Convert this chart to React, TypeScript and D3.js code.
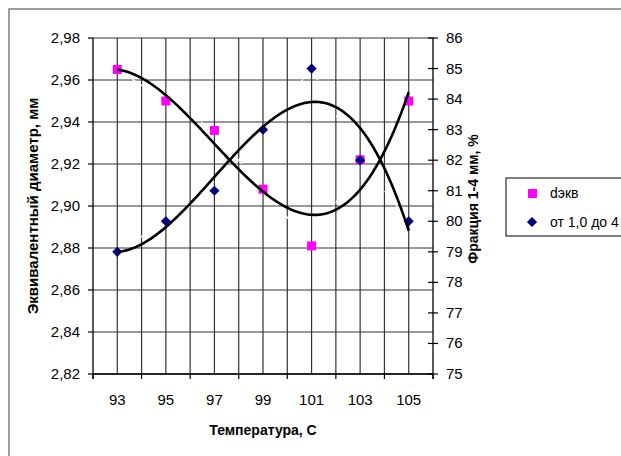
import React from 'react';
import * as d3 from 'd3';

// temperatures on the category axis
const temps = ['93', '95', '97', '99', '101', '103', '105'];
// equivalent diameter, mm (left axis)
const dEkv = [2.965, 2.95, 2.936, 2.908, 2.881, 2.922, 2.95];
// fraction 1-4 mm, % (right axis)
const frac = [79, 80, 81, 83, 85, 82, 80];

const leftTicks = [2.82, 2.84, 2.86, 2.88, 2.9, 2.92, 2.94, 2.96, 2.98];
const rightTicks = [75, 76, 77, 78, 79, 80, 81, 82, 83, 84, 85, 86];

const W = 621;
const H = 456;
const margin = { left: 93, right: 188, top: 38, bottom: 82 };
const font = '"Liberation Sans", Arial, sans-serif';

// least squares cubic, like the Excel polynomial trendline (x = 1..n)
const cubicFit = (ys: number[]) => {
  const n = 4;
  const A: number[][] = Array.from({ length: n }, () => new Array(n + 1).fill(0));
  ys.forEach((y, i) => {
    const x = i + 1;
    for (let r = 0; r < n; r++) {
      for (let c = 0; c < n; c++) A[r][c] += Math.pow(x, r + c);
      A[r][n] += y * Math.pow(x, r);
    }
  });
  // gaussian elimination
  for (let i = 0; i < n; i++) {
    let p = i;
    for (let k = i + 1; k < n; k++) if (Math.abs(A[k][i]) > Math.abs(A[p][i])) p = k;
    [A[i], A[p]] = [A[p], A[i]];
    for (let k = i + 1; k < n; k++) {
      const f = A[k][i] / A[i][i];
      for (let c = i; c <= n; c++) A[k][c] -= f * A[i][c];
    }
  }
  const coef = new Array(n).fill(0);
  for (let i = n - 1; i >= 0; i--) {
    let s = A[i][n];
    for (let c = i + 1; c < n; c++) s -= A[i][c] * coef[c];
    coef[i] = s / A[i][i];
  }
  return (x: number) => coef.reduce((acc, a, k) => acc + a * Math.pow(x, k), 0);
};

const App = () => {
  const x0 = margin.left;
  const x1 = W - margin.right;
  const y0 = H - margin.bottom;
  const y1 = margin.top;

  const x = d3.scaleBand().domain(temps).range([x0, x1]).padding(0);
  const bw = x.bandwidth();
  const cx = (t: string) => (x(t) as number) + bw / 2;
  // index scale for the trend lines (1..7 -> category centres)
  const xi = d3.scaleLinear().domain([1, temps.length]).range([cx(temps[0]), cx(temps[temps.length - 1])]);

  const yL = d3.scaleLinear().domain([2.82, 2.98]).range([y0, y1]);
  const yR = d3.scaleLinear().domain([75, 86]).range([y0, y1]);

  const fitD = cubicFit(dEkv);
  const fitF = cubicFit(frac);
  const steps = d3.range(1, temps.length + 0.001, 0.05);

  const trendD = d3.line<number>().x(v => xi(v)).y(v => yL(fitD(v)))(steps) || '';
  const trendF = d3.line<number>().x(v => xi(v)).y(v => yR(fitF(v)))(steps) || '';

  const lineD = d3.line<number>().x((_, i) => cx(temps[i])).y(v => yL(v))(dEkv) || '';
  const lineF = d3.line<number>().x((_, i) => cx(temps[i])).y(v => yR(v))(frac) || '';

  // vertical grid every half category
  const vGrid = d3.range(1, temps.length * 2).map(k => x0 + (k * bw) / 2);
  const bounds = d3.range(0, temps.length + 1).map(k => x0 + k * bw);

  // square turned 45 degrees, as Excel draws its diamond marker
  const diamond = d3.symbol().type(d3.symbolSquare).size(52)() || '';

  return (
    <svg width={W} height={H} style={{ position: 'absolute', left: 0, top: 0, background: '#fff' }} fontFamily={font}>
      {/* chart area border */}
      <rect x={9} y={9} width={W + 20} height={H + 20} fill="#fff" stroke="#808080" strokeWidth={1.5} />

      {/* gridlines */}
      {leftTicks.map(t => (
        <line key={'h' + t} x1={x0} x2={x1} y1={yL(t)} y2={yL(t)} stroke="#333" strokeWidth={1.2} />
      ))}
      {vGrid.map(g => (
        <line key={'v' + g} x1={g} x2={g} y1={y1} y2={y0} stroke="#333" strokeWidth={1.2} />
      ))}

      {/* axes */}
      <line x1={x0} x2={x0} y1={y1} y2={y0 + 5} stroke="#000" strokeWidth={1.3} />
      <line x1={x1} x2={x1} y1={y1} y2={y0 + 5} stroke="#000" strokeWidth={1.3} />
      <line x1={x0} x2={x1} y1={y0} y2={y0} stroke="#000" strokeWidth={1.3} />
      {bounds.map(b => (
        <line key={'bt' + b} x1={b} x2={b} y1={y0} y2={y0 + 5} stroke="#000" strokeWidth={1.2} />
      ))}
      {leftTicks.map(t => (
        <g key={'lt' + t}>
          <line x1={x0 - 5} x2={x0} y1={yL(t)} y2={yL(t)} stroke="#000" strokeWidth={1.2} />
          <text x={x0 - 13} y={yL(t) + 5} textAnchor="end" fontSize={15}>
            {d3.format('.2f')(t).replace('.', ',')}
          </text>
        </g>
      ))}
      {rightTicks.map(t => (
        <g key={'rt' + t}>
          <line x1={x1 - 5} x2={x1 + 5} y1={yR(t)} y2={yR(t)} stroke="#000" strokeWidth={1.2} />
          <text x={x1 + 13} y={yR(t) + 5} fontSize={15}>{t}</text>
        </g>
      ))}
      {temps.map(t => (
        <text key={'xt' + t} x={cx(t)} y={y0 + 31} textAnchor="middle" fontSize={15}>{t}</text>
      ))}

      {/* series lines (white dashed) */}
      <path d={lineD} fill="none" stroke="#fff" strokeWidth={1.5} strokeDasharray="5,4" />
      <path d={lineF} fill="none" stroke="#fff" strokeWidth={1.5} strokeDasharray="5,4" />

      {/* markers */}
      {dEkv.map((v, i) => (
        <rect key={'s' + i} x={cx(temps[i]) - 4.5} y={yL(v) - 4.5} width={9} height={9} fill="#ff00ff" />
      ))}
      {frac.map((v, i) => (
        <path key={'d' + i} d={diamond} transform={`translate(${cx(temps[i])},${yR(v)}) rotate(45)`} fill="#000080" />
      ))}

      {/* polynomial trend lines */}
      <path d={trendD} fill="none" stroke="#000" strokeWidth={2.6} />
      <path d={trendF} fill="none" stroke="#000" strokeWidth={2.6} />

      {/* axis titles */}
      <text x={(x0 + x1) / 2} y={435} textAnchor="middle" fontSize={14} fontWeight="bold">Температура, С</text>
      <text transform={`translate(38,${(y0 + y1) / 2}) rotate(-90)`} textAnchor="middle" fontSize={15} fontWeight="bold">
        Эквивалентный диаметр, мм
      </text>
      <text transform={`translate(478,199) rotate(-90)`} textAnchor="middle" fontSize={14} fontWeight="bold">
        Фракция 1-4 мм, %
      </text>

      {/* legend */}
      <rect x={506} y={178} width={130} height={58} fill="#fff" stroke="#000" strokeWidth={1} />
      <rect x={528} y={189} width={9} height={9} fill="#ff00ff" />
      <text x={550} y={198} fontSize={14}>dэкв</text>
      <path d={diamond} transform="translate(532,222) rotate(45)" fill="#000080" />
      <text x={550} y={227} fontSize={14}>от 1,0 до 4</text>
    </svg>
  );
};

export default App;
